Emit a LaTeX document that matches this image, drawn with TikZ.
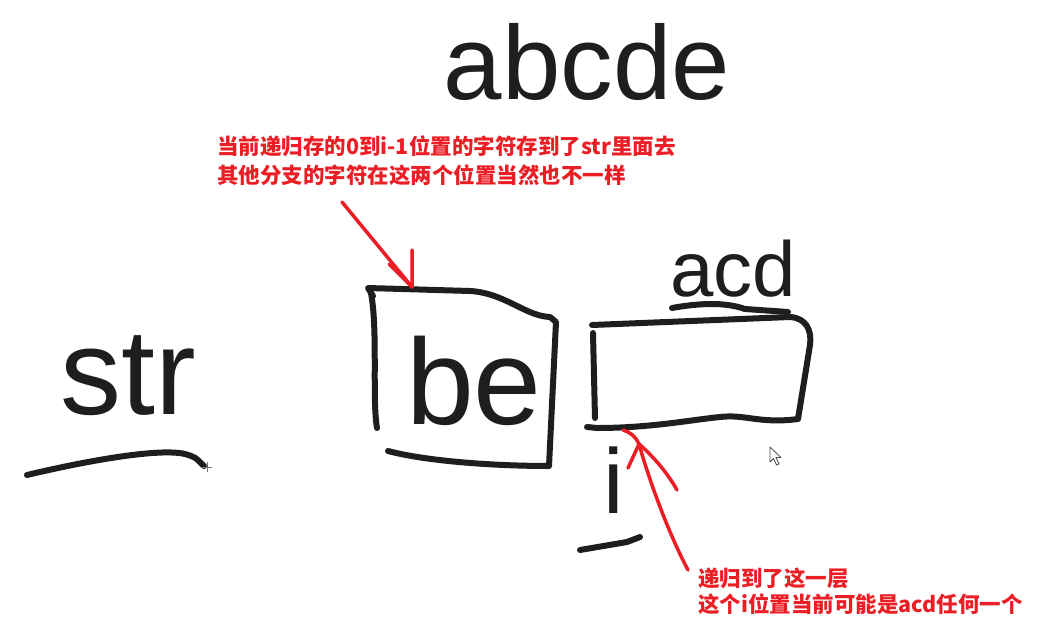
\documentclass[tikz,border=0pt]{standalone}
\usepackage{fontspec}
\setmainfont{Liberation Sans}
\newfontfamily\cjk{Noto Sans CJK SC}
\definecolor{ink}{HTML}{1E1E1E}
\definecolor{redink}{HTML}{EB1E25}
\begin{document}
\begin{tikzpicture}[x=1pt,y=-1pt,
  hand/.style={draw=ink,line width=6pt,line cap=round,line join=round},
  redline/.style={draw=redink,line width=3.5pt,line cap=round,line join=round},
  note/.style={text=redink,font=\cjk\bfseries\fontsize{21.5}{29}\selectfont,anchor=base west,inner sep=0pt},
  script/.style={text=ink,inner sep=0pt,anchor=base}]
\useasboundingbox[fill=white] (0,0) rectangle (1060,624);

% handwritten words
\node[script,font=\fontsize{105}{105}\selectfont] (abcde) at (587,99) {abcde};
\node[script,font=\fontsize{122}{122}\selectfont] (str) at (128,414) {str};
\node[script,font=\fontsize{122}{122}\selectfont] (be) at (474,424) {be};
\node[script,font=\fontsize{78}{78}\selectfont] (acd) at (733,296) {acd};
\node[script,font=\fontsize{92}{92}\selectfont] (i) at (614,513) {i};

% underlines
\draw[hand] (27,475) .. controls (90,460) and (160,448) .. (185,454) .. controls (195,457) .. (204,466);
\draw[hand] (672,308) .. controls (700,303) and (725,302) .. (745,309) -- (788,312);
\draw[hand] (580,550) -- (627,542) -- (640,537);

% left box (filled positions 0..i-1)
\draw[hand] (388,451) .. controls (430,462) and (500,466) .. (549,466) -- (556,322) -- (550,317)
  .. controls (525,316) and (505,293) .. (470,291) -- (368,288) -- (373,296);
\draw[hand] (371,293) .. controls (378,330) and (372,400) .. (377,428);

% right box (current position i)
\draw[hand] (592,325) -- (790,317) .. controls (806,318) and (812,330) .. (810,345) -- (798,419)
  .. controls (760,424) and (745,414) .. (720,417) .. controls (690,420) and (650,428) .. (597,428) -- (587,427);
\draw[hand] (593,333) -- (595,418);

% red notes
\node[note] (n1) at (217,154) {当前递归存的0到i-1位置的字符存到了str里面去};
\node[note] (n2) at (217,183) {其他分支的字符在这两个位置当然也不一样};
\node[note] (n3) at (698,586) {递归到了这一层};
\node[note] (n4) at (698,612) {这个i位置当前可能是acd任何一个};

% red arrows
\coordinate (p1) at (342,202);
\coordinate (t1) at (412,287);
\draw[redline] (p1) -- (t1);
\draw[redline] (412,250) -- (t1) -- (389,264);
\coordinate (p2) at (688,570);
\coordinate (t2) at (639,444);
\coordinate (e2) at (623,430);
\draw[redline] (p2) .. controls (672,540) and (652,490) .. (t2) .. controls (635,436) and (630,432) .. (e2);
\draw[redline] (628,468) -- (t2) .. controls (655,458) and (668,474) .. (677,490);

% mouse cursor and crosshair
\draw[draw=black!70,fill=white,line width=0.8pt,line join=round]
  (770,447) -- (770,462) -- (773.5,458.5) -- (776.5,465) -- (779,464) -- (776,457.5) -- (781,457.5) -- cycle;
\draw[black!55,line width=0.7pt] (207,462) -- (207,472) (202,467) -- (212,467);
\end{tikzpicture}
\end{document}
